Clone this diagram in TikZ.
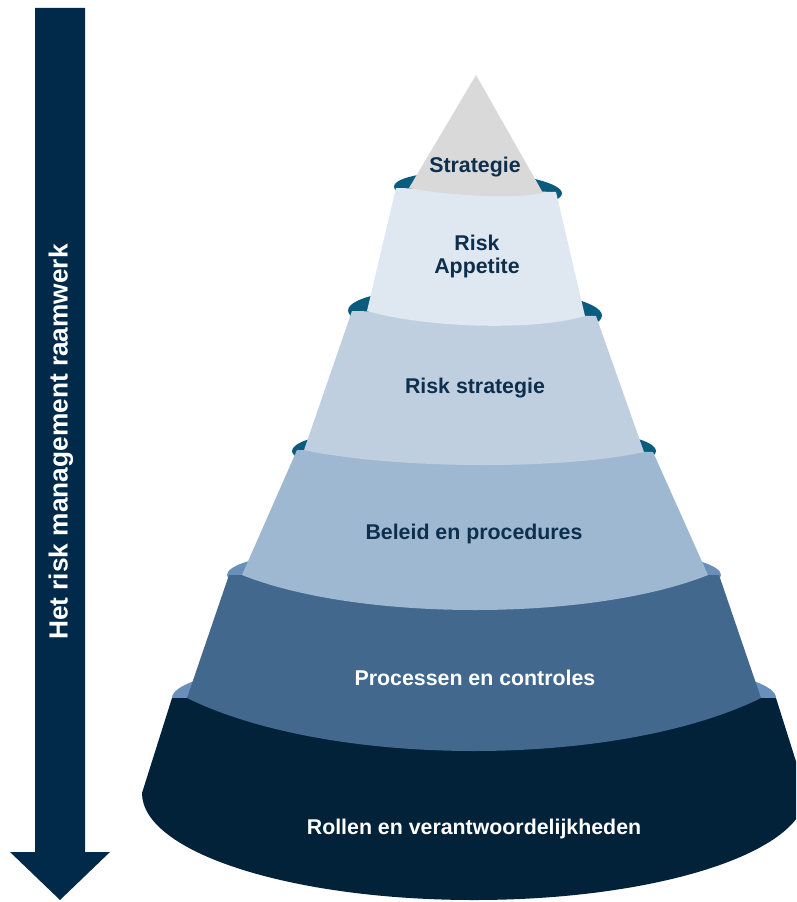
\documentclass[tikz,border=0pt]{standalone}
\usepackage{fontspec}
\setmainfont{Liberation Sans}
\definecolor{cgray}{HTML}{D9D9D9}
\definecolor{cl2}{HTML}{DFE7F0}
\definecolor{cl3}{HTML}{BFCFE0}
\definecolor{cl4}{HTML}{9EB8D1}
\definecolor{cl5}{HTML}{42688E}
\definecolor{cl6}{HTML}{012239}
\definecolor{cteal}{HTML}{0A5C7E}
\definecolor{csteel}{HTML}{6A8FBA}
\definecolor{carrow}{HTML}{012A4A}
\definecolor{ctext}{HTML}{0E2E4D}
% color, cx, ytopL, ytopR, hwtop, ybotL, ybotR, hwbot, sag
\newcommand\pyrlayer[9]{\fill[#1] ({#2-#5},#3) -- ({#2-#8},#6)
  .. controls ({#2-0.5*#8},{#6+1.3333*#9}) and ({#2+0.5*#8},{#7+1.3333*#9}) .. ({#2+#8},#7)
  -- ({#2+#5},#4) -- cycle;}
\tikzset{
  darklbl/.style={text=ctext, font=\fontsize{16}{19}\selectfont\bfseries, align=center, inner sep=0pt},
  lightlbl/.style={text=white, font=\fontsize{16}{19}\selectfont\bfseries, align=center, inner sep=0pt}
}
\begin{document}
\begin{tikzpicture}[x=0.75pt,y=-0.75pt]
\useasboundingbox (0,0) rectangle (796,902);
\begin{scope}
\clip (0,0) rectangle (796,902);
% arrow
\fill[carrow] (35,8) -- (85,8) -- (85,852) -- (110,852) -- (60,900) -- (10,852) -- (35,852) -- cycle;
\node[text=white, font=\fontsize{19.7}{22}\selectfont\bfseries, rotate=90, inner sep=0pt] (arrowlbl) at (61,442) {Het risk management raamwerk};
% layer 6 (bottom)
\fill[csteel] (474,698) ellipse[x radius=302, y radius=45];
\fill[cl6] (172,698) -- (142,793)
  .. controls (142,852) and (290,900) .. (474,900)
  .. controls (658,900) and (806,852) .. (806,793)
  -- (776,698) -- cycle;
% layer 5
\fill[csteel] (474,575) ellipse[x radius=247, y radius=34];
\pyrlayer{cl5}{474}{575}{575}{245}{698}{698}{287}{53}
% layer 4
\fill[cteal] (474,451) ellipse[x radius=182, y radius=28];
\pyrlayer{cl4}{475}{450}{452}{178}{575}{575}{233}{35}
% layer 3
\fill[cteal, rotate around={-1.2:(475,313)}] (475,313) ellipse[x radius=127, y radius=26];
\pyrlayer{cl3}{474}{311}{316}{122}{450}{452}{170}{14}
% layer 2
\fill[cteal, rotate around={-2.4:(478,190)}] (478,190) ellipse[x radius=84, y radius=18];
\pyrlayer{cl2}{476}{188}{192}{80}{311}{316}{109}{12}
% layer 1
\pyrlayer{cgray}{476}{75}{75}{0}{188}{193}{67}{5}
\end{scope}
% labels
\node[darklbl] (strat) at (475,167) {Strategie};
\node[darklbl] (risk) at (477,243) {Risk};
\node[darklbl] (appetite) at (477,268) {Appetite};
\node[darklbl] (riskstrat) at (475,388) {Risk strategie};
\node[darklbl] (beleid) at (474,534) {Beleid en procedures};
\node[lightlbl] (proc) at (475,678) {Processen en controles};
\node[lightlbl] (rollen) at (474,829) {Rollen en verantwoordelijkheden};
\end{tikzpicture}
\end{document}
